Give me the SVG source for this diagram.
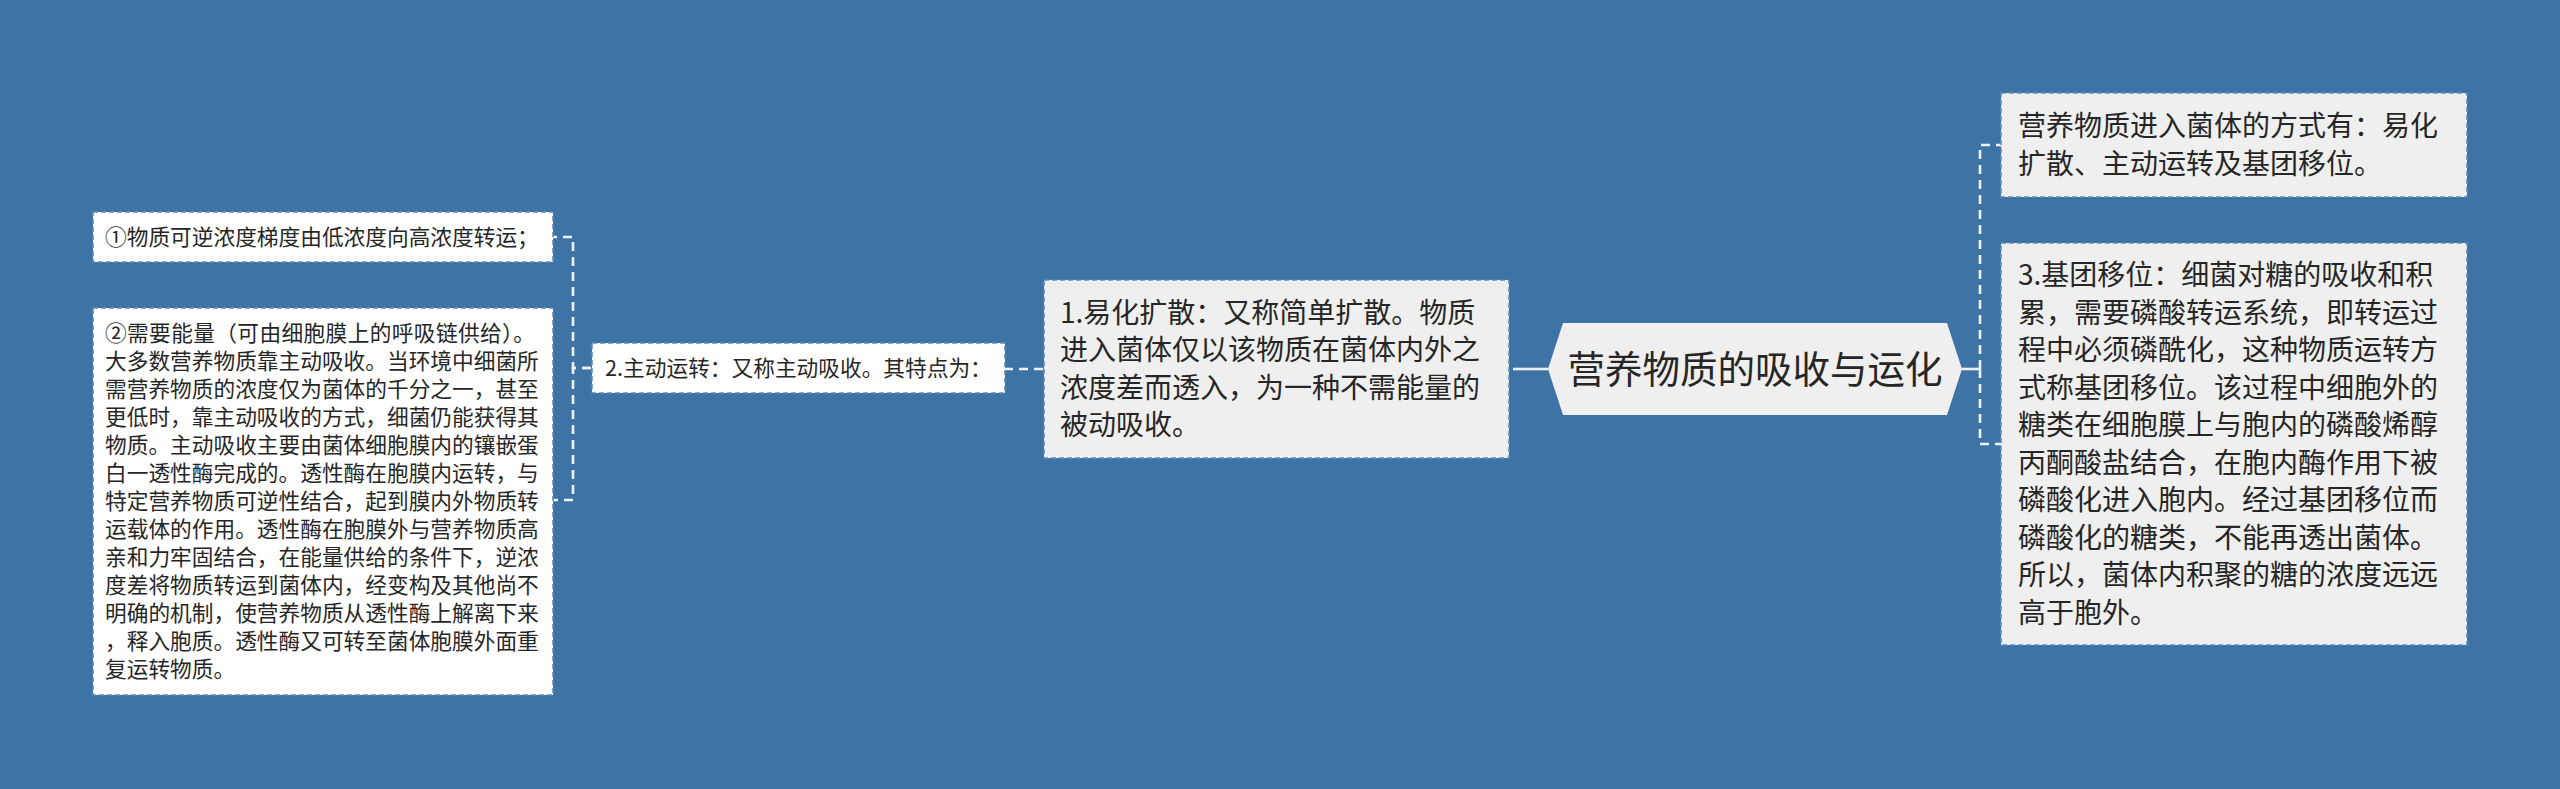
<svg xmlns="http://www.w3.org/2000/svg" width="2560" height="789" viewBox="0 0 2560 789">
<style>
.bg{fill:#3e73a6}
.box{stroke:#5f8cba;stroke-width:1.6;stroke-dasharray:5 3}
.l1{fill:#efefef}
.l2{fill:#ffffff}
.t{font-family:"Noto Sans CJK SC","Noto Sans",sans-serif;fill:#262626}
.t1{font-size:28px}
.t2{font-size:21.7px}
.tc{font-size:37.5px;text-anchor:middle}
.c{fill:none;stroke:#eef2f7;stroke-width:2.6}
.d{stroke-dasharray:9 6}
</style>
<rect class="bg" x="0" y="0" width="2560" height="789"/>
<g id="connectors">
<path class="c" d="M1548 369 L1522 369"/>
<path class="c d" d="M1522 369 L1509 369"/>
<path class="c d" d="M1043 369 L1004 369"/>
<path class="c d" d="M591 368 L573 368 L573 237 L553 237"/>
<path class="c d" d="M591 368 L573 368 L573 500 L553 500"/>
<path class="c" d="M1962 369 L1980 369"/>
<path class="c d" d="M1980 369 L1980 145 L2001 145"/>
<path class="c d" d="M1980 369 L1980 444 L2001 444"/>
</g>
<g id="center">
<polygon class="l1" points="1548,369 1563,323 1947,323 1962,369 1947,415 1563,415"/>
<text class="t tc" x="1755" y="383">营养物质的吸收与运化</text>
</g>
<g id="node-yihua">
<rect class="box l1" x="1044" y="280" width="465" height="178"/>
<text class="t t1" x="1060" y="322.75">1.易化扩散：又称简单扩散。物质</text>
<text class="t t1" x="1060" y="360.25">进入菌体仅以该物质在菌体内外之</text>
<text class="t t1" x="1060" y="397.75">浓度差而透入，为一种不需能量的</text>
<text class="t t1" x="1060" y="435.25">被动吸收。</text>
</g>
<g id="node-zhudong">
<rect class="box l2" x="592" y="343" width="413" height="50"/>
<text class="t t2" x="605" y="376">2.主动运转：又称主动吸收。其特点为：</text>
</g>
<g id="node-c1">
<rect class="box l2" x="93" y="212" width="460" height="50"/>
<text class="t t2" x="105" y="244.5">①物质可逆浓度梯度由低浓度向高浓度转运；</text>
</g>
<g id="node-c2">
<rect class="box l2" x="93" y="308" width="460" height="387"/>
<text class="t t2" x="105" y="341" textLength="430" lengthAdjust="spacing">②需要能量（可由细胞膜上的呼吸链供给）。</text>
<text class="t t2" x="105" y="369">大多数营养物质靠主动吸收。当环境中细菌所</text>
<text class="t t2" x="105" y="397">需营养物质的浓度仅为菌体的千分之一，甚至</text>
<text class="t t2" x="105" y="425">更低时，靠主动吸收的方式，细菌仍能获得其</text>
<text class="t t2" x="105" y="453">物质。主动吸收主要由菌体细胞膜内的镶嵌蛋</text>
<text class="t t2" x="105" y="481">白一透性酶完成的。透性酶在胞膜内运转，与</text>
<text class="t t2" x="105" y="509">特定营养物质可逆性结合，起到膜内外物质转</text>
<text class="t t2" x="105" y="537">运载体的作用。透性酶在胞膜外与营养物质高</text>
<text class="t t2" x="105" y="565">亲和力牢固结合，在能量供给的条件下，逆浓</text>
<text class="t t2" x="105" y="593">度差将物质转运到菌体内，经变构及其他尚不</text>
<text class="t t2" x="105" y="621">明确的机制，使营养物质从透性酶上解离下来</text>
<text class="t t2" x="105" y="649">，释入胞质。透性酶又可转至菌体胞膜外面重</text>
<text class="t t2" x="105" y="677">复运转物质。</text>
</g>
<g id="node-fangshi">
<rect class="box l1" x="2001" y="93" width="466" height="104"/>
<text class="t t1" x="2018" y="136.25">营养物质进入菌体的方式有：易化</text>
<text class="t t1" x="2018" y="173.75">扩散、主动运转及基团移位。</text>
</g>
<g id="node-jituan">
<rect class="box l1" x="2001" y="243" width="466" height="402"/>
<text class="t t1" x="2018" y="285.25">3.基团移位：细菌对糖的吸收和积</text>
<text class="t t1" x="2018" y="322.75">累，需要磷酸转运系统，即转运过</text>
<text class="t t1" x="2018" y="360.25">程中必须磷酰化，这种物质运转方</text>
<text class="t t1" x="2018" y="397.75">式称基团移位。该过程中细胞外的</text>
<text class="t t1" x="2018" y="435.25">糖类在细胞膜上与胞内的磷酸烯醇</text>
<text class="t t1" x="2018" y="472.75">丙酮酸盐结合，在胞内酶作用下被</text>
<text class="t t1" x="2018" y="510.25">磷酸化进入胞内。经过基团移位而</text>
<text class="t t1" x="2018" y="547.75">磷酸化的糖类，不能再透出菌体。</text>
<text class="t t1" x="2018" y="585.25">所以，菌体内积聚的糖的浓度远远</text>
<text class="t t1" x="2018" y="622.75">高于胞外。</text>
</g>
</svg>
